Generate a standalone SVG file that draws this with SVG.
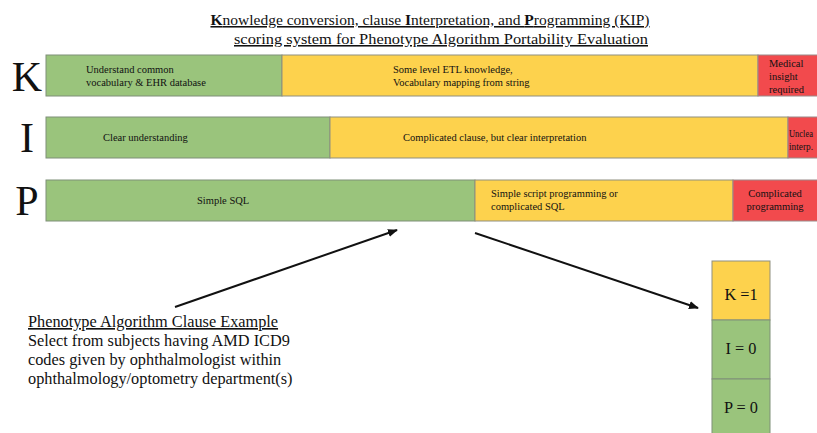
<svg xmlns="http://www.w3.org/2000/svg" width="817" height="433" viewBox="0 0 817 433">
<defs>
<style>
text{font-family:"Liberation Serif","Times New Roman",serif;fill:#111}
.title{font-size:15.5px;text-decoration:underline}
.big{font-size:42px}
.s{font-size:10.5px}
.body{font-size:16.3px}
.g{fill:#9AC47C;stroke:#7f8f78;stroke-width:1}
.y{fill:#FDD24D;stroke:#8f8f80;stroke-width:1}
.r{fill:#F24A4D;stroke:#9a8a8a;stroke-width:1}
.arrow{stroke:#111;stroke-width:2;fill:none;marker-end:url(#ah)}
</style>
<marker id="ah" viewBox="0 0 10 10" refX="9" refY="5" markerWidth="5" markerHeight="5" orient="auto"><path d="M0,1 L10,5 L0,9 z" fill="#111"/></marker>
</defs>
<rect width="817" height="433" fill="#fff"/>
<g id="title">
<text class="title" x="430" y="25" text-anchor="middle"><tspan font-weight="bold">K</tspan>nowledge conversion, clause <tspan font-weight="bold">I</tspan>nterpretation, and <tspan font-weight="bold">P</tspan>rogramming (KIP)</text>
<text class="title" x="234" y="44" textLength="414" lengthAdjust="spacingAndGlyphs">scoring system for Phenotype Algorithm Portability Evaluation</text>
</g>
<g id="row-K">
<text class="big" x="27" y="91" text-anchor="middle">K</text>
<rect class="g" x="46" y="55" width="236" height="41"/>
<rect class="y" x="282" y="55" width="476" height="41"/>
<rect class="r" x="758" y="55" width="62" height="41"/>
<text class="s" x="86" y="73">Understand common</text>
<text class="s" x="86" y="86">vocabulary &amp; EHR database</text>
<text class="s" x="393" y="73">Some level ETL knowledge,</text>
<text class="s" x="393" y="86">Vocabulary mapping from string</text>
<text class="s" x="769" y="67">Medical</text>
<text class="s" x="769" y="80">insight</text>
<text class="s" x="769" y="93">required</text>
</g>
<g id="row-I">
<text class="big" x="27" y="152" text-anchor="middle">I</text>
<rect class="g" x="46" y="117" width="284" height="41"/>
<rect class="y" x="330" y="117" width="458" height="41"/>
<rect class="r" x="788" y="117" width="32" height="41"/>
<text class="s" x="103" y="141">Clear understanding</text>
<text class="s" x="403" y="141">Complicated clause, but clear interpretation</text>
<text class="s" x="789" y="137" font-size="9.5" textLength="24" lengthAdjust="spacingAndGlyphs">Unclea</text>
<text class="s" x="789" y="150" font-size="9.5" textLength="24" lengthAdjust="spacingAndGlyphs">interp.</text>
</g>
<g id="row-P">
<text class="big" x="27" y="215" text-anchor="middle">P</text>
<rect class="g" x="46" y="180" width="429" height="41"/>
<rect class="y" x="475" y="180" width="258" height="41"/>
<rect class="r" x="733" y="180" width="87" height="41"/>
<text class="s" x="197" y="204">Simple SQL</text>
<text class="s" x="491" y="197">Simple script programming or</text>
<text class="s" x="491" y="210">complicated SQL</text>
<text class="s" x="775" y="197" text-anchor="middle">Complicated</text>
<text class="s" x="775" y="210" text-anchor="middle">programming</text>
</g>
<g id="example">
<text class="body" x="28" y="327" text-decoration="underline">Phenotype Algorithm Clause Example</text>
<text class="body" x="28" y="346">Select from subjects having AMD ICD9</text>
<text class="body" x="28" y="365">codes given by ophthalmologist within</text>
<text class="body" x="28" y="384">ophthalmology/optometry department(s)</text>
</g>
<g id="score">
<rect class="y" x="712" y="261" width="58" height="59"/>
<rect class="g" x="712" y="320" width="58" height="59"/>
<rect class="g" x="712" y="379" width="58" height="60"/>
<text class="body" x="741" y="300" text-anchor="middle">K =1</text>
<text class="body" x="741" y="354" text-anchor="middle">I = 0</text>
<text class="body" x="741" y="413" text-anchor="middle">P = 0</text>
</g>
<g id="connectors">
<line class="arrow" x1="175" y1="307" x2="397" y2="230"/>
<line class="arrow" x1="475" y1="233" x2="698" y2="308"/>
</g>
</svg>
